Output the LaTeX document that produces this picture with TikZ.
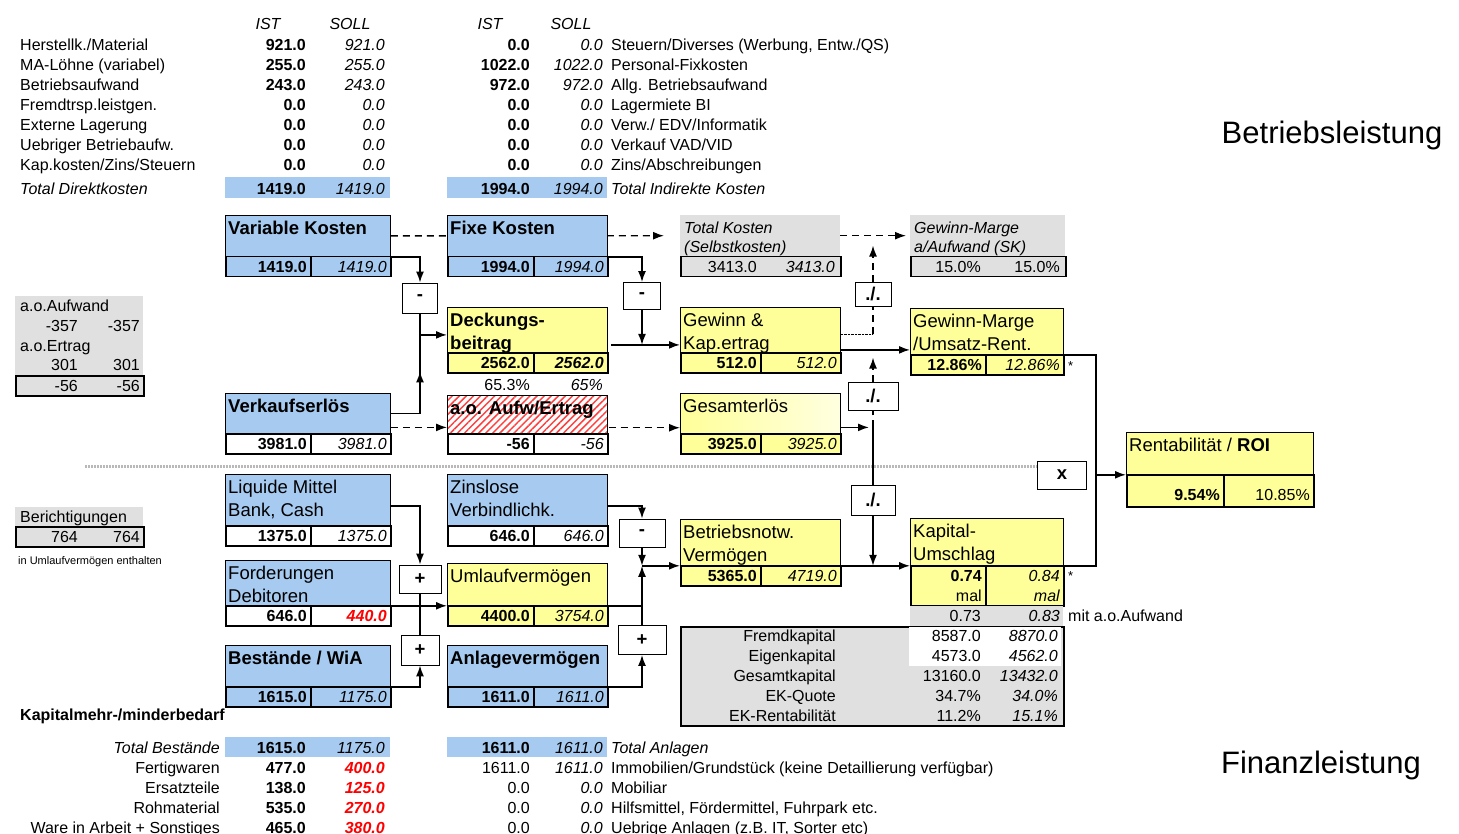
\documentclass[tikz,border=0pt]{standalone}
\usepackage{fontspec}
\setmainfont{Liberation Sans}
\usetikzlibrary{arrows.meta,patterns.meta}
\definecolor{kblau}{RGB}{166,202,240}
\definecolor{kgelb}{RGB}{255,255,153}
\definecolor{kgrau}{RGB}{224,224,224}
\newcommand\normtxt{\fontsize{16}{19.5}\selectfont}
\newcommand\titeltxt{\fontsize{18.5}{23}\selectfont}
\pgfdeclarelayer{hinten}
\pgfsetlayers{hinten,main}
\begin{document}
\begin{tikzpicture}[x=1pt, y=-1pt,
    every node/.style={font=\normtxt, inner sep=0pt},
    kopf/.style={draw, line width=0.8pt, anchor=north west},
    flaeche/.style={anchor=north west},
    titel/.style={anchor=north west, align=left, inner sep=3pt, yshift=-2.5pt, font=\titeltxt},
    titelfett/.style={titel, font=\titeltxt\bfseries},
    zelle/.style={draw, line width=1.5pt, anchor=north west, minimum height=20, text width=#1, inner xsep=4pt, align=right},
    op/.style={draw, line width=0.8pt, fill=white, minimum width=#1, minimum height=28, font=\titeltxt\bfseries},
    lt/.style={anchor=mid west, yshift=-3.5pt},
    rt/.style={anchor=mid east, yshift=-3.5pt},
    linie/.style={line width=1.6pt},
    fluss/.style={line width=1.6pt, ->},
    strich/.style={line width=1.4pt, dash pattern=on 7pt off 5pt},
    >={Latex[length=11pt,width=8pt]}
  ]
  \useasboundingbox (0,0) rectangle (1459,834);

  % Kostentabellen oben
  \node (h1) at (268,24) {\itshape IST};
  \node (h2) at (350,24) {\itshape SOLL};
  \node (h3) at (490,24) {\itshape IST};
  \node (h4) at (571,24) {\itshape SOLL};
  \foreach \txt/\ist/\soll [count=\i] in {{Herstellk./Material}/921.0/921.0, {MA-Löhne (variabel)}/255.0/255.0, Betriebsaufwand/243.0/243.0, Fremdtrsp.leistgen./0.0/0.0, Externe Lagerung/0.0/0.0, Uebriger Betriebaufw./0.0/0.0, {Kap.kosten/Zins/Steuern}/0.0/0.0}{
    \node[lt] (dk\i) at (20,24+20*\i) {\txt};
    \node[rt] (dki\i) at (306,24+20*\i) {\bfseries\ist};
    \node[rt] (dks\i) at (385,24+20*\i) {\itshape\soll};
  }
  \foreach \txt/\ist/\soll [count=\i] in {{Steuern/Diverses (Werbung, Entw./QS)}/0.0/0.0, Personal-Fixkosten/1022.0/1022.0, {Allg. Betriebsaufwand}/972.0/972.0, Lagermiete BI/0.0/0.0, {Verw./ EDV/Informatik}/0.0/0.0, {Verkauf VAD/VID}/0.0/0.0, {Zins/Abschreibungen}/0.0/0.0}{
    \node[rt] (iki\i) at (530,24+20*\i) {\bfseries\ist};
    \node[rt] (iks\i) at (603,24+20*\i) {\itshape\soll};
    \node[lt] (ik\i) at (611,24+20*\i) {\txt};
  }
  \node[flaeche, fill=kblau, minimum width=165, minimum height=21] (dksum) at (225,177) {};
  \node[lt] (dkt) at (20,188) {\itshape Total Direktkosten};
  \node[rt] (dkti) at (306,188) {\bfseries 1419.0};
  \node[rt] (dkts) at (385,188) {\itshape 1419.0};
  \node[flaeche, fill=kblau, minimum width=160, minimum height=21] (iksum) at (447,177) {};
  \node[rt] (ikti) at (530,188) {\bfseries 1994.0};
  \node[rt] (ikts) at (603,188) {\itshape 1994.0};
  \node[lt] (ikt) at (611,188) {\itshape Total Indirekte Kosten};

  \node (bl) at (1332,135) {\fontsize{31}{36}\selectfont Betriebsleistung};
  \node (fl) at (1321,765) {\fontsize{31}{36}\selectfont Finanzleistung};

  % Betriebsleistung
  \node[kopf, fill=kblau, minimum width=165, minimum height=41, label={[titelfett]north west:Variable Kosten}] (vk) at (225,215) {};
  \node[zelle=77, fill=kblau] (vki) at (225,256) {\bfseries 1419.0};
  \node[zelle=72, fill=kblau] (vks) at (310,256) {\itshape 1419.0};

  \node[kopf, fill=kblau, minimum width=160, minimum height=41, label={[titelfett]north west:Fixe Kosten}] (fk) at (447,215) {};
  \node[zelle=78, fill=kblau] (fki) at (447,256) {\bfseries 1994.0};
  \node[zelle=66, fill=kblau] (fks) at (533,256) {\itshape 1994.0};

  \node[flaeche, fill=kgrau, minimum width=160, minimum height=41, label={[titel, inner sep=4pt, font=\normtxt\itshape]north west:Total Kosten\\(Selbstkosten)}] (tk) at (680,215) {};
  \node[zelle=152, fill=kgrau] (tkw) at (680,256) {};
  \node[rt] (tki) at (757,266) {3413.0};
  \node[rt] (tks) at (835,266) {\itshape 3413.0};

  \node[flaeche, fill=kgrau, minimum width=155, minimum height=41, label={[titel, inner sep=4pt, font=\normtxt\itshape]north west:Gewinn-Marge\\a/Aufwand (SK)}] (gma) at (910,215) {};
  \node[zelle=147, fill=kgrau] (gmaw) at (910,256) {};
  \node[rt] (gmai) at (981,266) {15.0\%};
  \node[rt] (gmas) at (1060,266) {15.0\%};

  \node[kopf, fill=kgelb, minimum width=160, minimum height=45, label={[titelfett]north west:Deckungs-\\beitrag}] (db) at (447,307) {};
  \node[zelle=78, fill=kgelb] (dbi) at (447,352) {\bfseries 2562.0};
  \node[zelle=66, fill=kgelb] (dbs) at (533,352) {\bfseries\itshape 2562.0};
  \node[rt] (dbpi) at (530,384) {65.3\%};
  \node[rt] (dbps) at (603,384) {\itshape 65\%};

  \node[kopf, fill=kgelb, minimum width=160, minimum height=45, label={[titel]north west:Gewinn \&\\Kap.ertrag}] (gk) at (680,307) {};
  \node[zelle=72, fill=kgelb] (gki) at (680,352) {\bfseries 512.0};
  \node[zelle=72, fill=kgelb] (gks) at (760,352) {\itshape 512.0};

  \node[kopf, fill=kgelb, minimum width=153, minimum height=46, label={[titel]north west:Gewinn-Marge\\/Umsatz-Rent.}] (gmu) at (910,308) {};
  \node[zelle=67, fill=kgelb] (gmui) at (910,354) {\bfseries 12.86\%};
  \node[zelle=70, fill=kgelb] (gmus) at (985,354) {\itshape 12.86\%};
  \node[lt, font=\fontsize{13}{15}\selectfont] (st1) at (1068,364) {*};

  \node[kopf, fill=kblau, minimum width=165, minimum height=40, label={[titelfett]north west:Verkaufserlös}] (ve) at (225,393) {};
  \node[zelle=77, fill=white] (vei) at (225,433) {\bfseries 3981.0};
  \node[zelle=72, fill=white] (ves) at (310,433) {\itshape 3981.0};

  \node[kopf, pattern={Lines[angle=45,distance=5pt,line width=1.5pt]}, pattern color=red!75, minimum width=160, minimum height=38, label={[titelfett]north west:a.o. Aufw/Ertrag}] (ao) at (447,395) {};
  \node[zelle=78, fill=white] (aoi) at (447,433) {\bfseries -56};
  \node[zelle=66, fill=white] (aos) at (533,433) {\itshape -56};

  \node[kopf, left color=kgelb, right color=kgelb!30, minimum width=160, minimum height=40, label={[titel]north west:Gesamterlös}] (ge) at (680,393) {};
  \node[zelle=72, fill=kgelb] (gei) at (680,433) {\bfseries 3925.0};
  \node[zelle=72, fill=kgelb] (ges) at (760,433) {\itshape 3925.0};

  \node[kopf, fill=kgelb, minimum width=187, minimum height=42, label={[titel]north west:Rentabilität / \textbf{ROI}}] (roi) at (1126,432) {};
  \node[zelle=89, fill=kgelb, minimum height=32, text height=20pt] (roii) at (1126,474) {\bfseries 9.54\%};
  \node[zelle=82, fill=kgelb, minimum height=32, text height=20pt] (rois) at (1223,474) {10.85\%};

  % Trennlinie
  \coordinate (trenn) at (85,466);
  \node[op=49] (mal) at (1062,475) {x};
  \draw[gray!55, line width=3pt, dash pattern=on 1.5pt off 1.5pt] (trenn) -- (trenn -| mal.west);

  % Finanzleistung
  \node[kopf, fill=kblau, minimum width=165, minimum height=51, label={[titel]north west:Liquide Mittel\\Bank, Cash}] (lm) at (225,474) {};
  \node[zelle=77, fill=white] (lmi) at (225,525) {\bfseries 1375.0};
  \node[zelle=72, fill=white] (lms) at (310,525) {\itshape 1375.0};

  \node[kopf, fill=kblau, minimum width=160, minimum height=51, label={[titel]north west:Zinslose\\Verbindlichk.}] (zv) at (447,474) {};
  \node[zelle=78, fill=white] (zvi) at (447,525) {\bfseries 646.0};
  \node[zelle=66, fill=white] (zvs) at (533,525) {\itshape 646.0};

  \node[kopf, fill=kgelb, minimum width=160, minimum height=46, label={[titel]north west:Betriebsnotw.\\Vermögen}] (bv) at (680,519) {};
  \node[zelle=72, fill=kgelb] (bvi) at (680,565) {\bfseries 5365.0};
  \node[zelle=72, fill=kgelb] (bvs) at (760,565) {\itshape 4719.0};

  \node[kopf, fill=kgelb, minimum width=153, minimum height=47, label={[titel]north west:Kapital-\\Umschlag}] (ku) at (910,518) {};
  \node[zelle=67, fill=kgelb, minimum height=40] (kui) at (910,565) {\textbf{0.74}\\mal};
  \node[zelle=70, fill=kgelb, minimum height=40] (kus) at (985,565) {\itshape 0.84\\mal};
  \node[lt, font=\fontsize{13}{15}\selectfont] (st2) at (1068,574) {*};
  \node[flaeche, fill=kgrau, minimum width=153, minimum height=20] (kua) at (910,606) {};
  \node[rt] (kuai) at (981,615) {0.73};
  \node[rt] (kuas) at (1060,615) {\itshape 0.83};
  \node[lt] (kuat) at (1068,615) {mit a.o.Aufwand};

  \node[kopf, fill=kblau, minimum width=165, minimum height=45, label={[titel]north west:Forderungen\\Debitoren}] (fo) at (225,560) {};
  \node[zelle=77, fill=white] (foi) at (225,605) {\bfseries 646.0};
  \node[zelle=72, fill=white] (fos) at (310,605) {\color{red}\bfseries\itshape 440.0};

  \node[kopf, fill=kgelb, minimum width=160, minimum height=42, label={[titel]north west:Umlaufvermögen}] (uv) at (447,563) {};
  \node[zelle=78, fill=kgelb] (uvi) at (447,605) {\bfseries 4400.0};
  \node[zelle=66, fill=kgelb] (uvs) at (533,605) {\itshape 3754.0};

  \node[kopf, fill=kblau, minimum width=165, minimum height=41, label={[titelfett]north west:Bestände / WiA}] (be) at (225,645) {};
  \node[zelle=77, fill=kblau] (bei) at (225,686) {\bfseries 1615.0};
  \node[zelle=72, fill=kblau] (bes) at (310,686) {\itshape 1175.0};

  \node[kopf, fill=kblau, minimum width=160, minimum height=41, label={[titelfett]north west:Anlagevermögen}] (av) at (447,645) {};
  \node[zelle=78, fill=kblau] (avi) at (447,686) {\bfseries 1611.0};
  \node[zelle=66, fill=kblau] (avs) at (533,686) {\itshape 1611.0};

  % Kapitaltabelle
  \node[flaeche, draw, line width=1.5pt, fill=kgrau, minimum width=383, minimum height=99] (kap) at (680,626) {};
  \node[flaeche, fill=white, minimum width=152, minimum height=39] (kapw) at (909,627) {};
  \foreach \txt/\ist/\soll [count=\i] in {Fremdkapital/8587.0/8870.0, Eigenkapital/4573.0/4562.0, Gesamtkapital/13160.0/13432.0, EK-Quote/34.7\%/34.0\%, EK-Rentabilität/11.2\%/15.1\%}{
    \node[rt] (kt\i) at (836,615+20*\i) {\txt};
    \node[rt] (kti\i) at (981,615+20*\i) {\ist};
    \node[rt] (kts\i) at (1058,615+20*\i) {\itshape\soll};
  }

  % Kaestchen links
  \node[flaeche, fill=kgrau, minimum width=128, minimum height=79] (aoa) at (15,296) {};
  \node[zelle=120, fill=kgrau] (aoaw) at (15,375) {};
  \node[lt] (aoa1) at (20,305) {a.o.Aufwand};
  \node[rt] (aoa2) at (78,325) {-357};
  \node[rt] (aoa3) at (140,325) {-357};
  \node[lt] (aoa4) at (20,345) {a.o.Ertrag};
  \node[rt] (aoa5) at (78,364) {301};
  \node[rt] (aoa6) at (140,364) {301};
  \node[rt] (aoa7) at (78,385) {-56};
  \node[rt] (aoa8) at (140,385) {-56};

  \node[flaeche, fill=kgrau, minimum width=128, minimum height=19] (ber) at (15,507) {};
  \node[zelle=120, fill=kgrau] (berw) at (15,526) {};
  \node[lt] (ber1) at (20,516) {Berichtigungen};
  \node[rt] (ber2) at (78,536) {764};
  \node[rt] (ber3) at (140,536) {764};
  \node[lt, font=\fontsize{11}{13}\selectfont] (ber4) at (18,558) {in Umlaufvermögen enthalten};

  % Tabellen unten
  \node[lt, font=\normtxt\bfseries] (kmb) at (20,714) {Kapitalmehr-/minderbedarf};
  \node[flaeche, fill=kblau, minimum width=165, minimum height=20] (tbbg) at (225,737) {};
  \node[rt] (tb) at (220,747) {\itshape Total Bestände};
  \node[rt] (tbi) at (306,747) {\bfseries 1615.0};
  \node[rt] (tbs) at (385,747) {\itshape 1175.0};
  \foreach \txt/\ist/\soll [count=\i] in {Fertigwaren/477.0/400.0, Ersatzteile/138.0/125.0, Rohmaterial/535.0/270.0, Ware in Arbeit + Sonstiges/465.0/380.0}{
    \node[rt] (wb\i) at (220,747+20*\i) {\txt};
    \node[rt] (wbi\i) at (306,747+20*\i) {\bfseries\ist};
    \node[rt] (wbs\i) at (385,747+20*\i) {\color{red}\bfseries\itshape\soll};
  }
  \node[flaeche, fill=kblau, minimum width=160, minimum height=20] (tabg) at (447,737) {};
  \node[rt] (tai) at (530,747) {\bfseries 1611.0};
  \node[rt] (tas) at (603,747) {\itshape 1611.0};
  \node[lt] (ta) at (611,747) {\itshape Total Anlagen};
  \foreach \ist/\soll/\txt [count=\i] in {1611.0/1611.0/{Immobilien/Grundstück (keine Detaillierung verfügbar)}, 0.0/0.0/Mobiliar, 0.0/0.0/{Hilfsmittel, Fördermittel, Fuhrpark etc.}, 0.0/0.0/{Uebrige Anlagen (z.B. IT, Sorter etc)}}{
    \node[rt] (ani\i) at (530,747+20*\i) {\ist};
    \node[rt] (ans\i) at (603,747+20*\i) {\itshape\soll};
    \node[lt] (an\i) at (611,747+20*\i) {\txt};
  }

  % Operatoren
  \node[op=35, minimum height=30] (m1) at (420,298) {-};
  \node[op=37, minimum height=27] (m2) at (642,296) {-};
  \node[op=36, minimum height=24] (d1) at (873,294) {./.};
  \node[op=50] (d2) at (873,396) {./.};
  \node[op=44, minimum height=30] (d3) at (873,500) {./.};
  \node[op=42] (p1) at (420,579) {+};
  \node[op=38, minimum height=30] (p2) at (420,650) {+};
  \node[op=48, minimum height=29] (p3) at (642,640) {+};
  \node[op=46] (m3) at (642,533) {-};

  % Verbindungen
  \begin{pgfonlayer}{hinten}
    \draw[strich, ->, shorten >=16pt] (vk.east) -- (tk.west);
  \end{pgfonlayer}
  \draw[strich, ->, shorten >=4pt] (tk.east) -- (gma.west);
  \draw[fluss] (vk.south east) -| (m1.north);
  \draw[linie] (ve.east) -| (m1.south);
  \draw[fluss] (ve.east -| m1.south) -- ++(0,-42);
  \coordinate (dbin) at ([yshift=-5pt]db.west);
  \draw[fluss] (m1.south |- dbin) -- (dbin);
  \draw[fluss] (fk.south east) -| (m2.north);
  \coordinate (dbgk) at ([xshift=3pt,yshift=-15pt]db.east);
  \draw[fluss] (m2.south) -- (m2.south |- dbgk);
  \draw[fluss] (dbgk) -- (dbgk -| gk.west);
  \coordinate (gkd) at ([yshift=-4pt]gk.east);
  \draw[thin, densely dotted] (gkd) -- (gkd -| d1.south);
  \draw[strich] (gkd -| d1.south) -- (d1.south);
  \draw[strich, ->] (d1.north) -- ++(0,-36);
  \coordinate (gkgm) at ([yshift=-20pt]gk.east);
  \draw[fluss] (gkgm) -- (gkgm -| gmu.west);
  \draw[strich, ->] (d2.north) -- ++(0,-24);
  \coordinate (veao) at ([yshift=-14pt]ve.east);
  \draw[strich, ->] (veao) -- (veao -| ao.west);
  \coordinate (aoge) at ([yshift=-13pt]ao.east);
  \draw[strich, ->] (aoge) -- (aoge -| ge.west);
  \coordinate (gev) at ([yshift=-14pt]ge.east);
  \draw[fluss, shorten >=4pt] (gev) -- (gev -| d2.south);
  \draw[strich] (gev -| d2.south) -- (d2.south);
  \draw[linie] (gev -| d2.south) -- (d3.north);
  \draw[fluss] (d3.south) -- (d3.south |- bv.south east);
  \draw[fluss] (bv.south east) -- (ku.south west);
  \draw[linie] (gmu.south east) -- ++(32,0) |- (ku.south east);
  \draw[fluss] ([xshift=-31pt]roi.south west) -- (roi.south west);

  \coordinate (lmr) at ([yshift=-6pt]lm.east);
  \draw[fluss] (lmr) -| (p1.north);
  \draw[linie] (p1.south) -- (p2.north);
  \draw[fluss] (fo.south east) -- (fo.south east -| uv.west);
  \draw[fluss] (be.south east) -| (p2.south);
  \coordinate (zvr) at ([yshift=-6pt]zv.east);
  \draw[fluss] (zvr) -| (m3.north);
  \draw[fluss] (m3.south) -- (m3.south |- bv.south west);
  \draw[linie] (uv.south east) -- (uv.south east -| p3.north);
  \draw[fluss] (p3.north) -- (p3.north |- bv.south west);
  \draw[fluss] (av.south east) -| (p3.south);
  \draw[fluss] (p3.north |- bv.south west) -- (bv.south west);
\end{tikzpicture}
\end{document}
